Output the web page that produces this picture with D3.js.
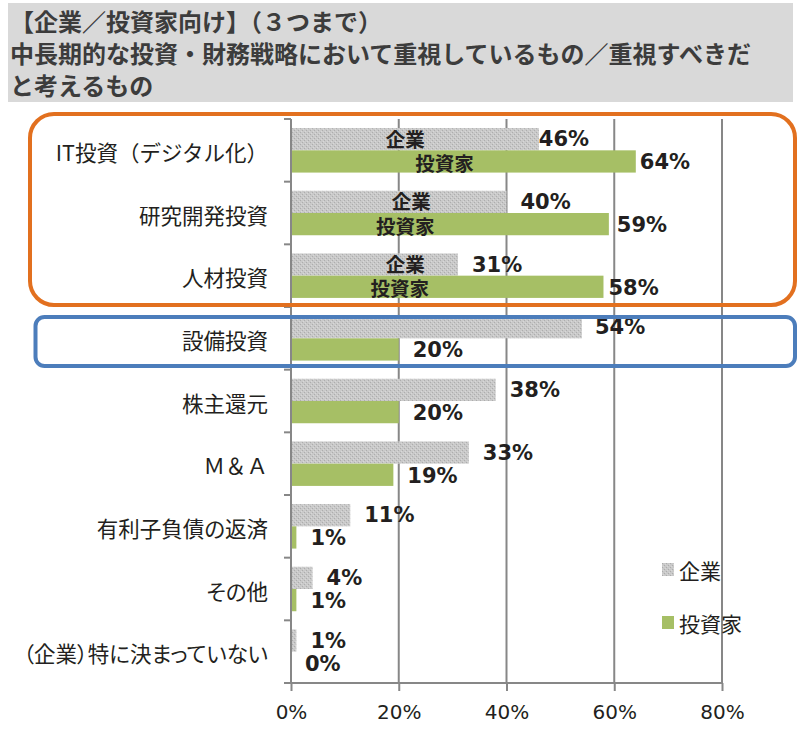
<!DOCTYPE html>
<html><head><meta charset="utf-8">
<script src="https://cdn.jsdelivr.net/npm/d3@7"></script>
<style>
html,body{margin:0;padding:0;background:#fff;}
svg{display:block;}
.cjk{font-family:"Noto Sans CJK JP","Noto Sans",sans-serif;}
.prop{font-feature-settings:"palt";}
.num{font-family:"DejaVu Sans",Verdana,sans-serif;}
</style>
</head><body>
<svg id="chart" width="809" height="739"></svg>
<script>
// ---- data ----
const titleLines = ["【企業／投資家向け】（３つまで）","中長期的な投資・財務戦略において重視しているもの／重視すべきだ","と考えるもの"];
const categories = ["IT投資（デジタル化）","研究開発投資","人材投資","設備投資","株主還元","Ｍ＆Ａ","有利子負債の返済","その他","（企業）特に決まっていない"];
const seriesNames = ["企業","投資家"];
const kigyoValues = [46,40,31,54,38,33,11,4,1];
const toshikaValues = [64,59,58,20,20,19,1,1,0];
const xTickValues = [0,20,40,60,80];
// in-bar series-name annotations (first three categories), positions in % units
const kigyoNameAt = [21.2,22.3,21.2];
const toshikaNameAt = [28.5,21.2,20.2];
// label gap overrides (px) for manually placed labels
const kigyoLabelGap = [0,14,14,13,14,14,14,14,14];
const toshikaLabelGap = [4,8,5,14,14,14,14,14,14];

const svg = d3.select("#chart");
const defs = svg.append("defs");
const pat = defs.append("pattern").attr("id","grayTex").attr("patternUnits","userSpaceOnUse").attr("width",4).attr("height",4);
pat.append("rect").attr("width",4).attr("height",4).attr("fill","#c9c9c9");
pat.append("rect").attr("x",0).attr("y",0).attr("width",1).attr("height",1).attr("fill","#adadad");
pat.append("rect").attr("x",2).attr("y",2).attr("width",1).attr("height",1).attr("fill","#adadad");
pat.append("rect").attr("x",1).attr("y",3).attr("width",1).attr("height",1).attr("fill","#d8d8d8");
pat.append("rect").attr("x",3).attr("y",1).attr("width",1).attr("height",1).attr("fill","#d8d8d8");

const GRAY = "url(#grayTex)", GREEN = "#a6bf65", AXIS = "#878787", TXT = "#231f20";
const hasHiragana = s => /[\u3040-\u309f]/.test(s);

// ---- title ----
svg.append("rect").attr("x",8).attr("y",3).attr("width",785).attr("height",99).attr("fill","#d9d9d9");
svg.append("g").selectAll("text").data(titleLines).join("text")
  .attr("class","cjk").attr("x",10).attr("y",(d,i)=>20+i*32)
  .attr("dominant-baseline","central")
  .attr("font-size",24).attr("font-weight","bold").attr("fill","#3c3c3c")
  .text(d=>d);

// ---- scales ----
const x = d3.scaleLinear().domain([0,80]).range([291,722]);
const y = d3.scaleBand().domain(categories).range([119,683]).paddingInner(0.29).paddingOuter(0.145);
const ys = d3.scaleBand().domain(seriesNames).range([0,y.bandwidth()]);

// gridlines
svg.append("g").selectAll("line").data(xTickValues.slice(1)).join("line")
  .attr("x1",d=>x(d)).attr("x2",d=>x(d)).attr("y1",119).attr("y2",683)
  .attr("stroke",AXIS).attr("stroke-width",2);

// x axis
const xAxis = d3.axisBottom(x).tickValues(xTickValues).tickFormat(d=>d+"%").tickSize(8).tickPadding(14);
const gx = svg.append("g").attr("transform","translate(0,683)").call(xAxis);
gx.select(".domain").remove();
gx.append("line").attr("x1",284).attr("x2",x(80)).attr("y1",0).attr("y2",0).attr("stroke",AXIS).attr("stroke-width",2);
gx.selectAll(".tick line").attr("stroke",AXIS).attr("stroke-width",2);
gx.selectAll(".tick text").attr("class","num").attr("font-size",20).attr("fill",TXT).attr("font-family","DejaVu Sans");

// y axis: boundary ticks
const step = y.step();
const bounds = d3.range(categories.length+1).map(i=>119+i*step);
const gy = svg.append("g");
gy.append("line").attr("x1",291).attr("x2",291).attr("y1",119).attr("y2",683).attr("stroke",AXIS).attr("stroke-width",2);
gy.selectAll("line.tk").data(bounds).join("line").attr("class","tk")
  .attr("x1",284).attr("x2",291).attr("y1",d=>d).attr("y2",d=>d).attr("stroke",AXIS).attr("stroke-width",2);
gy.selectAll("text").data(categories).join("text")
  .attr("class",d=>hasHiragana(d)?"cjk prop":"cjk").attr("x",268).attr("y",d=>y(d)+y.bandwidth()/2+1)
  .attr("text-anchor","end").attr("dominant-baseline","central")
  .attr("font-size",21.5).attr("fill",TXT).text(d=>d);

// bars
const rows = categories.map((c,i)=>({c,i,k:kigyoValues[i],t:toshikaValues[i]}));
const gb = svg.append("g");
gb.selectAll("rect.k").data(rows).join("rect").attr("class","k")
  .attr("x",x(0)+1).attr("y",d=>y(d.c)+ys("企業")).attr("height",ys.bandwidth())
  .attr("width",d=>Math.max(0,x(d.k)-x(0)-1)).attr("fill",GRAY);
gb.selectAll("rect.t").data(rows).join("rect").attr("class","t")
  .attr("x",x(0)+1).attr("y",d=>y(d.c)+ys("投資家")).attr("height",ys.bandwidth())
  .attr("width",d=>Math.max(0,x(d.t)-x(0)-1)).attr("fill",GREEN);

// value labels
gb.selectAll("text.kl").data(rows).join("text").attr("class","num kl")
  .attr("x",d=>x(d.k)+kigyoLabelGap[d.i]).attr("y",d=>y(d.c)+ys("企業")+ys.bandwidth()/2)
  .attr("dominant-baseline","central").attr("font-size",21).attr("font-weight","bold").attr("fill",TXT)
  .text(d=>d.k+"%");
gb.selectAll("text.tl").data(rows).join("text").attr("class","num tl")
  .attr("x",d=>x(d.t)+toshikaLabelGap[d.i]).attr("y",d=>y(d.c)+ys("投資家")+ys.bandwidth()/2+1)
  .attr("dominant-baseline","central").attr("font-size",21).attr("font-weight","bold").attr("fill",TXT)
  .text(d=>d.t+"%");

// in-bar series names
kigyoNameAt.forEach((v,i)=>{
  gb.append("text").attr("class","cjk").attr("x",x(v)).attr("y",y(categories[i])+ys("企業")+ys.bandwidth()/2-1)
    .attr("text-anchor","middle").attr("dominant-baseline","central")
    .attr("font-size",19.5).attr("font-weight","bold").attr("fill",TXT).text(seriesNames[0]);
});
toshikaNameAt.forEach((v,i)=>{
  gb.append("text").attr("class","cjk").attr("x",x(v)).attr("y",y(categories[i])+ys("投資家")+ys.bandwidth()/2+1)
    .attr("text-anchor","middle").attr("dominant-baseline","central")
    .attr("font-size",19.5).attr("font-weight","bold").attr("fill",TXT).text(seriesNames[1]);
});

// legend
const lg = svg.append("g").attr("transform","translate(662,563)");
seriesNames.forEach((s,i)=>{
  lg.append("rect").attr("x",0).attr("y",i*53).attr("width",12).attr("height",13).attr("fill",i===0?GRAY:GREEN);
  lg.append("text").attr("class","cjk").attr("x",17).attr("y",i*53+7).attr("dominant-baseline","central")
    .attr("font-size",21).attr("fill",TXT).text(s);
});

// highlight frames
svg.append("rect").attr("x",30).attr("y",114).attr("width",765).attr("height",191).attr("rx",24)
  .attr("fill","none").attr("stroke","#e2701f").attr("stroke-width",4);
svg.append("rect").attr("x",35.5).attr("y",317).attr("width",759.5).attr("height",49).attr("rx",9)
  .attr("fill","none").attr("stroke","#4c7dbb").attr("stroke-width",4);
</script>
</body></html>
